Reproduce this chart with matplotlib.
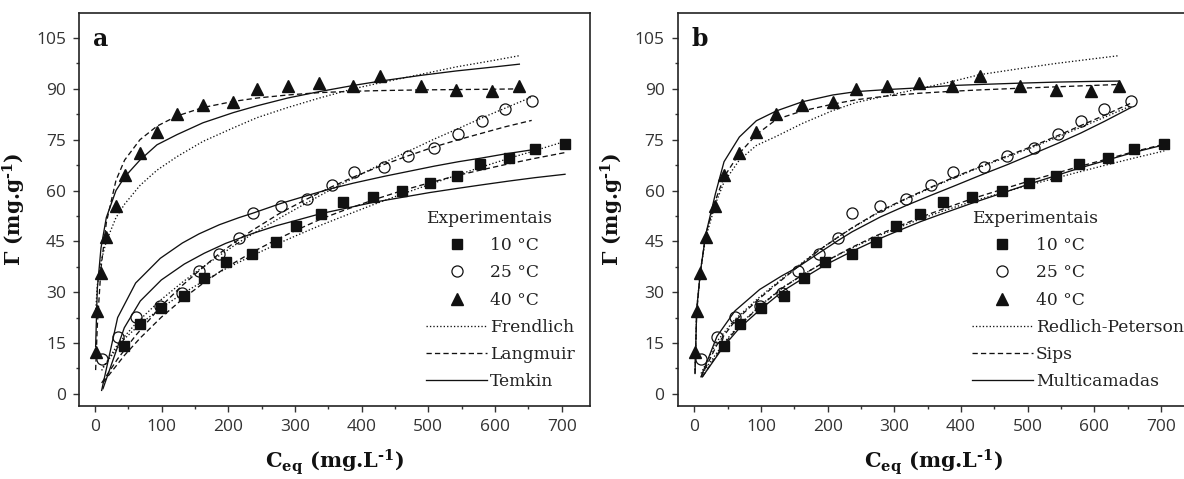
import matplotlib
matplotlib.use("Agg")
import matplotlib.pyplot as plt
from matplotlib.lines import Line2D
from matplotlib.ticker import MultipleLocator

# ---------------- data ----------------
# experimental points
c10 = [44, 68, 99.5, 134, 164, 196, 236, 272, 302, 339, 372.5, 417, 461, 502, 542.5, 577.5, 621, 660, 705]
q10 = [14.2, 20.6, 25.4, 29.0, 34.1, 38.9, 41.3, 44.9, 49.6, 53.1, 56.5, 58.1, 59.8, 62.2, 64.3, 67.8, 69.5, 72.3, 73.7]
c25 = [10, 34, 61, 98, 131, 156, 186.5, 216, 236.5, 279, 318, 355, 388, 434, 469, 509, 545, 580, 615, 655]
q25 = [10.2, 16.8, 22.6, 25.8, 29.9, 36.3, 41.2, 46.1, 53.4, 55.5, 57.5, 61.6, 65.5, 66.8, 70.2, 72.7, 76.7, 80.4, 84.0, 86.5]
c40 = [1, 3.5, 9, 17, 31.5, 44.5, 67.5, 93, 123, 162, 207.5, 243, 289, 336.5, 387, 428, 489, 542, 595, 636.5]
q40 = [12.2, 24.4, 35.8, 46.3, 55.4, 64.7, 71.2, 77.4, 82.6, 85.3, 86.2, 90.0, 90.9, 91.6, 90.8, 93.8, 90.9, 89.6, 89.3, 91.0]

# x positions of the fitted curves
cfit10 = [12, 44, 68, 99.5, 134, 164, 196, 236, 272, 302, 339, 372.5, 417, 461, 502, 542.5, 577.5, 621, 660, 705]
cfit25 = c25
cfit40 = c40

# panel a models
fr10 = [7.9, 16.2, 20.6, 25.4, 29.9, 33.4, 36.9, 40.8, 44.1, 46.7, 49.8, 52.4, 55.8, 59.0, 61.8, 64.5, 66.8, 69.5, 71.8, 74.5]
la10 = [3.3, 11.3, 16.5, 22.6, 28.4, 32.9, 37.2, 41.8, 45.5, 48.3, 51.6, 54.1, 57.2, 60.0, 62.3, 64.4, 66.0, 67.9, 69.5, 71.2]
te10 = [1.5, 19.5, 27.4, 33.6, 38.3, 41.5, 44.4, 47.3, 49.6, 51.2, 53.2, 54.6, 56.5, 58.0, 59.4, 60.6, 61.6, 62.8, 63.8, 64.8]
fr25 = [6.9, 14.6, 20.7, 27.6, 32.9, 36.6, 40.8, 44.7, 47.2, 52.1, 56.4, 60.4, 63.7, 68.3, 71.5, 75.2, 78.3, 81.4, 84.3, 87.6]
la25 = [3.2, 10.3, 17.2, 25.6, 32.0, 36.3, 41.4, 45.6, 48.3, 53.5, 57.5, 61.1, 64.0, 67.7, 70.2, 72.9, 75.0, 76.9, 78.8, 80.7]
te25 = [1.0, 22.5, 32.7, 40.0, 44.5, 47.2, 49.9, 52.0, 53.3, 56.2, 58.5, 60.6, 62.2, 64.2, 65.6, 67.2, 68.5, 69.6, 70.8, 72.0]
fr40 = [24, 32, 39, 45, 52, 56, 61.5, 66, 70, 74.5, 78.5, 81.5, 84.5, 87.3, 90, 91.8, 94.3, 96.5, 98.3, 99.8]
la40 = [7, 20, 37, 50.5, 63, 69, 75, 79, 82, 84.5, 86.3, 87.3, 88.2, 88.9, 89.3, 89.5, 89.7, 89.8, 89.9, 90.0]
te40 = [14, 31, 43, 52, 60, 64, 69, 73.5, 76.5, 80, 83, 85, 87.3, 89.2, 91, 92.3, 94, 95.3, 96.4, 97.3]

# panel b models
rp10 = [6, 15, 20.5, 26.2, 31.6, 35.3, 39, 43, 46.3, 48.7, 51.6, 53.9, 56.8, 59.3, 61.6, 63.7, 65.5, 67.7, 69.6, 71.7]
si10 = [5, 14.5, 20.3, 26, 31.5, 35.3, 39, 43.2, 46.6, 49.1, 52.1, 54.5, 57.6, 60.3, 62.8, 65.1, 67.1, 69.4, 71.5, 73.7]
mc10 = [5, 14, 19.5, 25, 30.5, 34.2, 38, 42, 45.3, 47.8, 50.8, 53.2, 56.3, 59.2, 61.9, 64.4, 66.6, 69.1, 71.3, 73.5]
rp25 = [6, 15.5, 22.0, 28.6, 33.9, 37.8, 42.4, 46.3, 48.9, 53.8, 57.5, 60.8, 63.6, 67.3, 69.9, 72.9, 75.8, 78.7, 81.6, 85.0]
si25 = [5, 14.5, 21.5, 28.2, 33.6, 37.6, 42.3, 46.3, 49.0, 54.0, 57.7, 61.0, 63.8, 67.5, 70.2, 73.2, 76.2, 79.2, 82.2, 85.8]
mc25 = [5, 17, 24.5, 30.8, 34.8, 37.5, 41.5, 45.3, 47.8, 52.2, 55.6, 58.6, 61.2, 64.9, 67.6, 70.9, 73.9, 77.0, 80.4, 84.5]
rp40 = [7, 25, 36, 46, 56, 62.5, 69, 73.3, 76, 79.8, 83.6, 86, 88, 90, 92.2, 94.2, 96, 97.5, 98.8, 99.8]
si40 = [6, 24, 36, 47, 57, 64, 71, 76.5, 81, 83.5, 85.5, 86.8, 87.9, 88.7, 89.3, 89.7, 90.2, 90.6, 91.0, 91.3]
mc40 = [6, 25, 36, 47, 59, 68.5, 75.8, 80.6, 83.5, 86.2, 88.2, 89.2, 89.8, 90.3, 91.0, 91.3, 91.7, 92.0, 92.2, 92.3]

temp_labels = ["10 \u00b0C", "25 \u00b0C", "40 \u00b0C"]
models_a = ["Frendlich", "Langmuir", "Temkin"]
models_b = ["Redlich-Peterson", "Sips", "Multicamadas"]
x_ticks = [0, 100, 200, 300, 400, 500, 600, 700]
y_ticks = [0, 15, 30, 45, 60, 75, 90, 105]

# ---------------- style ----------------
plt.rcParams["mathtext.fontset"] = "dejavuserif"
INK = "#111111"
SERIF = "DejaVu Serif"
LS = {"dot": (0, (1, 1.6)), "dash": (0, (4, 2.4)), "solid": "-"}
LW = 0.95

fig = plt.figure(figsize=(11.84, 4.79), dpi=100)
W, H = 1184.0, 479.0
ax_a = fig.add_axes([79.3 / W, 1 - 406 / H, 510.4 / W, 393 / H])
ax_b = fig.add_axes([677.7 / W, 1 - 406 / H, 511.3 / W, 393 / H])


def style(ax, xleft, letter):
    ax.set_xlim(xleft, 742)
    ax.set_ylim(-3.6, 112.4)
    ax.set_xticks(x_ticks)
    ax.set_yticks(y_ticks)
    ax.xaxis.set_minor_locator(MultipleLocator(50))
    ax.yaxis.set_minor_locator(MultipleLocator(7.5))
    ax.tick_params(which="major", direction="out", length=4.5, width=1.0,
                   colors="#333333", labelsize=12.5, pad=5)
    ax.tick_params(which="minor", direction="out", length=2.5, width=1.0, colors="#333333")
    for lab in ax.get_xticklabels() + ax.get_yticklabels():
        lab.set_family("Open Sans")
    for s in ax.spines.values():
        s.set_linewidth(1.2)
        s.set_color("#222222")
    ax.set_xlabel("C$_{\\mathbf{eq}}$ (mg.L$^{\\mathbf{\u2010 1}}$)", fontsize=15,
                  fontweight="bold", family=SERIF, color=INK, labelpad=9)
    ax.set_ylabel("\u0393 (mg.g$^{\\mathbf{\u2010 1}}$)", fontsize=14.5,
                  fontweight="bold", family=SERIF, color=INK, labelpad=6)
    ax.text(0.027, 0.965, letter, transform=ax.transAxes, fontsize=17,
            fontweight="bold", family=SERIF, va="top", ha="left", color=INK)


def draw(ax, curves):
    for (xs, ys, key) in curves:
        ax.plot(xs, ys, color=INK, lw=LW, linestyle=LS[key])
    ax.plot(c10, q10, linestyle="none", marker="s", ms=7.2, color=INK, mec=INK)
    ax.plot(c25, q25, linestyle="none", marker="o", ms=8, mfc="none", mec=INK, mew=0.9)
    ax.plot(c40, q40, linestyle="none", marker="^", ms=9, color=INK, mec=INK)


def legend(ax, names, x_anchor):
    handles = [
        Line2D([], [], linestyle="none", marker="s", ms=7.2, color=INK),
        Line2D([], [], linestyle="none", marker="o", ms=8, mfc="none", mec=INK, mew=0.9),
        Line2D([], [], linestyle="none", marker="^", ms=9, color=INK),
        Line2D([], [], color=INK, lw=LW, linestyle=LS["dot"]),
        Line2D([], [], color=INK, lw=LW, linestyle=LS["dash"]),
        Line2D([], [], color=INK, lw=LW, linestyle=LS["solid"]),
    ]
    labels = temp_labels + names
    leg = ax.legend(handles, labels, title="Experimentais", loc="lower left",
                    bbox_to_anchor=(x_anchor, 0.04), frameon=False,
                    prop={"family": SERIF, "size": 12.3},
                    title_fontproperties={"family": SERIF, "size": 12.3},
                    handlelength=3.6, handletextpad=0.15, labelspacing=0.6,
                    borderpad=0.0, borderaxespad=0.0, alignment="left", numpoints=1)
    for t in leg.get_texts():
        t.set_color("#222222")
    leg.get_title().set_color("#222222")


style(ax_a, -23.5, "a")
draw(ax_a, [
    (cfit10, fr10, "dot"), (cfit10, la10, "dash"), (cfit10, te10, "solid"),
    (cfit25, fr25, "dot"), (cfit25, la25, "dash"), (cfit25, te25, "solid"),
    (cfit40, fr40, "dot"), (cfit40, la40, "dash"), (cfit40, te40, "solid"),
])
legend(ax_a, models_a, 0.679)

style(ax_b, -25, "b")
draw(ax_b, [
    (cfit10, rp10, "dot"), (cfit10, si10, "dash"), (cfit10, mc10, "solid"),
    (cfit25, rp25, "dot"), (cfit25, si25, "dash"), (cfit25, mc25, "solid"),
    (cfit40, rp40, "dot"), (cfit40, si40, "dash"), (cfit40, mc40, "solid"),
])
legend(ax_b, models_b, 0.575)

fig.savefig("out.png", dpi=100)
